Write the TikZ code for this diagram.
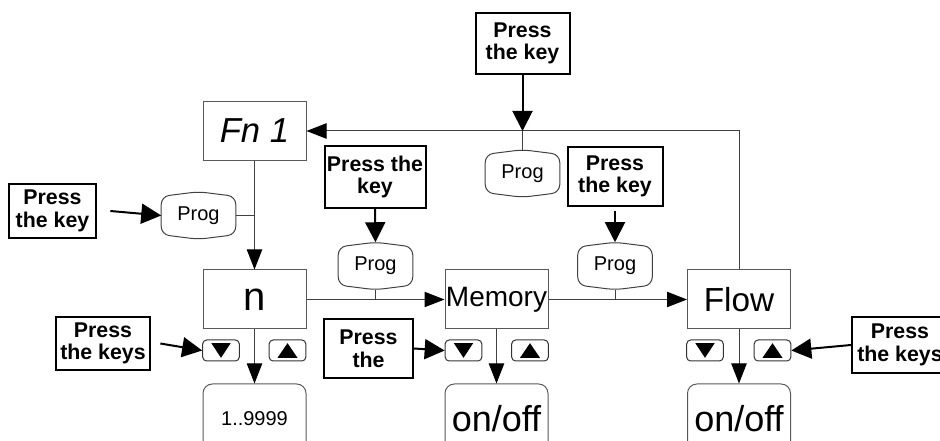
\documentclass[tikz,border=0pt]{standalone}
\usepackage{fontspec}
\setmainfont{Liberation Sans}
\usetikzlibrary{arrows.meta}
\tikzstyle{disp}=[draw=black!65, line width=0.75pt, inner sep=0pt, minimum width=77.25pt, minimum height=44.25pt]
\tikzstyle{val}=[disp, rounded corners=7pt, minimum height=52.5pt]
\tikzstyle{press}=[draw, line width=1.5pt, inner sep=0pt, align=center, font=\bfseries\fontsize{16}{17}\selectfont]
\tikzstyle{prog}=[inner sep=0pt, minimum width=55.5pt, minimum height=35.25pt, font=\fontsize{15}{16}\selectfont]
\tikzstyle{btn}=[draw=black!80, line width=0.75pt, rounded corners=3pt, minimum width=27.5pt, minimum height=15.75pt, inner sep=0pt]
\tikzstyle{dnbtn}=[btn, path picture={\fill[sharp corners] (path picture bounding box.center) ++(-7.25pt,5.5pt) -- ++(14.5pt,0pt) -- ++(-7.25pt,-11pt) -- cycle;}]
\tikzstyle{upbtn}=[btn, path picture={\fill[sharp corners] (path picture bounding box.center) ++(-7.5pt,-5.5pt) -- ++(15pt,0pt) -- ++(-7.5pt,11pt) -- cycle;}]
\tikzstyle{wire}=[draw=black!75, line width=0.75pt]
\tikzstyle{go}=[wire, -{Triangle[length=15pt,width=11.5pt,color=black]}]
\tikzstyle{pressarrow}=[line width=1.5pt, -{Triangle[length=15pt,width=15pt]}]
% outline of a Prog key round a node
\newcommand{\progkey}[1]{\draw[wire, rounded corners=6pt] (#1.north) -- ([yshift=-3.5pt]#1.north east) -- ([yshift=3.5pt]#1.south east) -- (#1.south) -- ([yshift=3.5pt]#1.south west) -- ([yshift=-3.5pt]#1.north west) -- cycle;}

\begin{document}
\begin{tikzpicture}[x=0.75pt, y=-0.75pt]
\useasboundingbox (0,0) rectangle (940,441);
\clip (0,0) rectangle (940,441);

% displays
\node[disp, font=\itshape\fontsize{26}{28}\selectfont] (fn) at (254.5,131) {Fn 1};
\node[disp, font=\fontsize{30}{30}\selectfont] (nbox) at (254.5,299.5) {n};
\node[disp, font=\fontsize{21}{24}\selectfont] (mem) at (496.5,299.5) {Memory};
\node[disp, font=\fontsize{25}{26}\selectfont] (flow) at (739,299.5) {Flow};

\node[val, font=\fontsize{15}{17}\selectfont] (val1) at (254.5,419) {1..9999};
\node[val, font=\fontsize{27}{28}\selectfont] (val2) at (496.5,419) {on/off};
\node[val, font=\fontsize{27}{28}\selectfont] (val3) at (739,419) {on/off};

\node[dnbtn] (dn1) at (221,350.5) {};
\node[upbtn] (up1) at (287.5,350.5) {};
\node[dnbtn] (dn2) at (463.5,350.5) {};
\node[upbtn] (up2) at (530,350.5) {};
\node[dnbtn] (dn3) at (705,350.5) {};
\node[upbtn] (up3) at (772.5,350.5) {};

% Prog keys
\node[prog] (progL) at (198.5,215.5) {Prog};
\node[prog] (progT) at (522.5,173.5) {Prog};
\node[prog] (progM) at (375.5,266) {Prog};
\node[prog] (progR) at (615,266) {Prog};
\progkey{progL}
\progkey{progT}
\progkey{progM}
\progkey{progR}

% press boxes
\node[press, minimum width=65.25pt, minimum height=40.5pt] (pkL) at (52.5,211) {Press\\the key};
\node[press, minimum width=70.5pt, minimum height=45.75pt] (pkT) at (522.5,43.5) {Press\\the key};
\node[press, minimum width=75.75pt, minimum height=46.5pt] (pkM) at (375,177) {Press the\\key};
\node[press, minimum width=71.25pt, minimum height=44.25pt] (pkR) at (615,176.5) {Press\\the key};
\node[press, minimum width=70.5pt, minimum height=39.75pt] (pksL) at (103,343.5) {Press\\the keys};
\node[press, minimum width=66.75pt, minimum height=44.25pt] (pksM) at (368.5,348.5) {Press\\the};
\node[press, minimum width=72pt, minimum height=42pt] (pksR) at (900,345) {Press\\the keys};

% connections
\draw[go] (flow.north) |- (fn.east);
\draw[pressarrow] (pkT.south) -- (pkT.south |- fn.east);
\draw[wire] (pkT.south |- fn.east) -- (progT.north);
\draw[pressarrow] ([xshift=10pt]pkL.east) -- (progL.west);
\draw[wire] (progL.east) -- (progL.east -| fn.south);
\draw[go] (fn.south) -- (nbox.north);
\draw[pressarrow] (pkM.south) -- (progM.north);
\draw[go] (nbox.east) -- (mem.west);
\draw[wire] (progM.south) -- (progM.south |- nbox.east);
\draw[pressarrow] ([yshift=-3pt]pkR.south) -- (progR.north);
\draw[go] (mem.east) -- (flow.west);
\draw[wire] (progR.south) -- (progR.south |- mem.east);
\draw[go] (nbox.south) -- (val1.north);
\draw[go] (mem.south) -- (val2.north);
\draw[go] (flow.south) -- (val3.north);
\draw[pressarrow] ([xshift=7pt]pksL.east) -- (dn1.west);
\draw[pressarrow] (pksM.east) -- (dn2.west);
\draw[pressarrow] (pksR.west) -- (up3.east);

\end{tikzpicture}
\end{document}
